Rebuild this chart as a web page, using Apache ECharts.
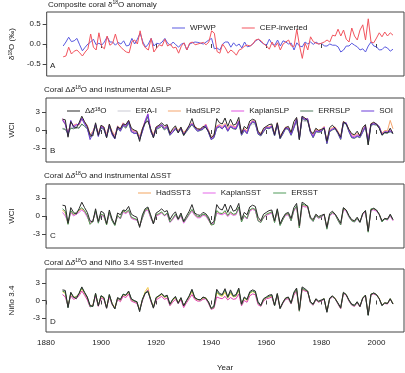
<!DOCTYPE html>
<html><head><meta charset="utf-8">
<script src="https://cdn.jsdelivr.net/npm/echarts@6/dist/echarts.min.js"></script>
<style>html,body{margin:0;padding:0;background:#fff}#c{width:405px;height:373px}</style>
</head><body><div id="c"></div>
<script>
const startYear = 1886, endYear = 2006;
const xTicks = [1880, 1900, 1920, 1940, 1960, 1980, 2000];
const ticksA = [-0.5, 0, 0.5];
const ticksWCI = [-3, 0, 3];

// Panel A: composite coral d18O anomaly (permil)
const wpwp = [
-0.05,0.05,0.17,0.06,0.08,0.14,-0.02,-0.17,-0.08,0.0,
0.05,0.12,-0.02,0.02,-0.03,0.05,0.18,0.05,0.05,-0.03,
0.04,0.0,0.08,-0.05,-0.03,0.14,0.0,0.12,0.27,0.05,
-0.08,0.0,0.14,-0.05,0.02,0.0,0.05,0.14,0.02,-0.03,
0.05,-0.02,-0.08,0.0,0.02,-0.15,0.0,0.03,0.05,0.04,
0.02,0.0,0.05,0.1,0.14,-0.12,-0.1,-0.15,0.0,0.05,
0.05,-0.08,0.03,-0.05,0.0,-0.1,0.05,-0.07,-0.05,0.0,
0.08,0.12,0.05,0.0,-0.03,0.12,0.0,-0.03,0.1,-0.05,
0.08,0.05,0.0,0.02,-0.15,0.03,-0.05,-0.07,0.05,0.0,
0.05,-0.01,0.05,0.0,0.02,-0.05,-0.05,0.0,-0.03,-0.03,
-0.07,-0.2,-0.15,-0.05,-0.05,0.02,-0.03,-0.07,-0.15,-0.12,
-0.2,-0.05,0.05,-0.05,-0.07,-0.15,-0.14,-0.07,-0.1,-0.18,
-0.13];
const cep = [
-0.32,-0.3,-0.08,-0.25,-0.18,-0.15,-0.22,-0.3,-0.2,-0.12,
0.25,-0.08,-0.15,0.28,-0.06,-0.12,0.2,-0.03,0.02,0.25,
0.0,-0.08,-0.15,-0.2,-0.22,0.06,0.1,0.0,0.33,0.0,
-0.1,-0.15,0.14,-0.2,-0.1,-0.02,-0.05,0.12,-0.05,0.0,
-0.1,-0.08,-0.23,-0.05,0.03,-0.15,0.02,0.05,-0.02,0.0,
0.02,0.04,-0.02,0.05,0.33,0.27,-0.19,-0.23,0.0,-0.1,
-0.23,-0.15,-0.2,-0.28,-0.15,-0.12,-0.05,-0.03,-0.05,0.0,
0.1,0.12,0.08,0.0,-0.05,-0.13,0.05,-0.08,0.03,-0.15,
0.0,0.05,0.1,-0.05,-0.06,0.37,-0.05,-0.36,0.02,-0.15,
0.18,0.06,0.02,0.0,0.02,0.05,0.1,0.05,0.22,0.2,
0.37,0.2,0.35,0.12,0.05,0.4,0.2,0.1,0.35,0.48,
0.1,0.63,0.05,0.03,0.15,0.28,0.18,0.3,0.2,0.28,
0.22];

// Coral Delta d18O (WCI units)
const coral = [
1.8,1.7,-1.2,1.4,0.6,0.3,1.2,2.3,1.4,0.6,
-0.8,-1.0,1.2,-0.9,0.8,0.5,-1.3,1.0,-0.5,-1.4,
0.5,0.2,1.0,0.9,1.6,0.3,0.0,-0.2,-1.9,0.2,
1.2,1.5,0.2,-1.3,0.5,0.8,1.2,0.7,0.9,-0.6,
0.2,0.7,-0.5,0.5,-0.9,0.0,0.8,1.9,0.5,0.2,
0.1,0.6,0.4,-0.2,-1.3,-0.9,1.9,1.2,1.0,2.0,
0.6,1.8,0.8,1.0,2.1,-0.6,0.6,0.2,1.5,1.8,
1.6,-0.2,-0.8,0.3,0.6,0.9,1.0,-0.8,1.2,-1.3,
-0.3,0.4,0.6,-0.4,1.4,2.1,-1.6,2.3,2.0,1.6,
-0.2,-0.6,0.3,-0.1,0.1,0.3,-1.9,0.4,0.8,0.3,
-0.4,-1.2,1.4,1.0,0.1,-0.6,-0.8,-0.2,-1.0,0.4,
0.9,-2.5,1.0,1.3,1.0,0.3,-0.8,-0.4,-0.5,0.3,
-0.6];

// Panel B: instrumental Delta SLP
const eraI = [
0.3,0.2,-0.3,0.5,0.4,0.5,0.4,0.9,0.7,0.4,
-0.7,-0.3,0.5,-0.5,0.4,0.3,-0.8,0.6,-0.3,-0.9,
0.4,0.1,0.8,0.4,1.0,0.0,-0.2,-0.3,-1.0,0.1,
1.0,1.6,0.1,-0.8,0.3,0.4,0.6,0.2,0.5,-0.5,
-0.1,0.3,-0.1,0.3,-0.5,0.0,0.4,0.8,0.4,0.1,
0.1,0.3,0.6,-0.1,-1.0,-0.7,0.4,0.6,0.3,0.7,
0.1,0.5,0.3,0.3,1.0,-0.5,0.1,-0.3,0.6,1.0,
0.9,-0.4,-0.6,0.0,0.3,0.3,0.5,-0.6,0.8,-0.9,
-0.3,0.3,0.2,-0.5,0.4,1.3,-1.0,1.6,1.4,1.5,
-0.2,-1.0,-0.1,-0.2,-0.1,0.4,-2.0,-0.1,0.2,0.3,
-0.4,-1.4,1.2,1.1,-0.1,-1.1,-1.2,-0.9,-1.1,-0.2,
0.6,-2.2,0.9,1.0,0.9,0.5,-0.7,-0.3,-0.4,-0.1,
-0.5];
const hadSLP2 = [
1.7,0.9,-0.5,1.2,0.8,1.0,0.8,1.8,1.3,0.8,
-0.8,-0.2,0.9,-0.5,0.7,0.5,-0.7,0.9,-0.2,-0.9,
0.7,0.2,1.2,0.7,1.6,0.1,-0.1,-0.2,-1.1,0.2,
1.5,2.4,0.2,-0.8,0.5,0.7,0.9,0.4,0.8,-0.4,
0.0,0.5,0.0,0.4,-0.4,0.1,0.6,1.2,0.7,0.2,
0.2,0.5,1.0,0.0,-1.2,-0.8,0.7,0.9,0.6,1.1,
0.2,0.9,0.6,0.5,1.6,-0.4,0.3,-0.2,1.0,1.6,
1.4,-0.3,-0.5,0.1,0.6,0.5,0.8,-0.5,1.2,-1.0,
-0.3,0.5,0.4,-0.4,0.7,2.0,-1.1,2.2,1.9,1.9,
0.0,-0.8,0.1,0.0,0.1,0.6,-1.8,0.1,0.4,0.5,
-0.2,-1.1,1.4,1.2,0.1,-0.8,-0.9,-0.6,-0.8,0.1,
0.8,-1.7,1.1,1.2,1.0,0.6,-0.5,-0.1,-0.1,1.6,
0.2];
const kaplanSLP = [
1.9,1.1,-0.7,1.3,0.7,0.9,0.9,2.0,1.2,0.6,
-1.1,-0.4,0.8,-0.7,0.6,0.4,-0.9,0.7,-0.4,-1.1,
0.5,0.0,1.1,0.5,1.5,-0.1,-0.3,-0.4,-1.3,0.0,
1.6,2.7,0.0,-1.0,0.4,0.5,0.8,0.3,0.7,-0.6,
-0.2,0.3,-0.2,0.3,-0.6,-0.1,0.5,1.1,0.6,0.0,
0.1,0.3,0.9,-0.2,-1.4,-1.0,0.5,0.8,0.4,0.9,
0.0,0.7,0.5,0.4,1.5,-0.6,0.1,-0.4,0.9,1.5,
1.3,-0.5,-0.7,-0.1,0.5,0.4,0.7,-0.7,1.1,-1.2,
-0.5,0.4,0.3,-0.6,0.6,1.9,-1.3,2.1,1.8,1.8,
-0.2,-1.0,-0.1,-0.2,-0.1,0.5,-2.0,-0.1,0.2,0.4,
-0.4,-1.3,1.3,1.1,-0.1,-1.0,-1.1,-0.8,-1.0,-0.1,
0.7,-1.9,1.0,1.1,0.9,0.5,-0.7,-0.3,-0.3,0.0,
-0.4];
const errSLP = [
0.2,0.1,-0.6,0.3,0.2,0.4,0.3,1.0,0.6,0.2,
-1.2,-0.5,0.6,-0.9,0.3,0.1,-1.2,0.5,-0.6,-1.3,
0.3,-0.2,0.7,0.3,1.2,-0.3,-0.5,-0.6,-1.5,-0.2,
1.2,2.2,-0.2,-1.2,0.1,0.3,0.6,0.0,0.4,-0.9,
-0.4,0.1,-0.4,0.1,-0.9,-0.3,0.3,0.9,0.3,-0.2,
-0.1,0.1,0.6,-0.4,-1.6,-1.3,0.3,0.5,0.2,0.7,
-0.2,0.5,0.2,0.1,1.2,-0.9,-0.1,-0.6,0.7,1.3,
1.1,-0.7,-1.0,-0.3,0.3,0.2,0.5,-1.0,0.9,-1.5,
-0.7,0.2,0.1,-0.9,0.3,1.7,-1.6,2.0,1.6,1.7,
-0.4,-1.3,-0.3,-0.4,-0.3,0.3,-2.3,-0.3,0.0,0.2,
-0.6,-1.6,1.1,1.0,-0.3,-1.3,-1.4,-1.1,-1.3,-0.4,
0.5,-2.4,0.8,0.9,0.8,0.4,-0.9,-0.5,-0.5,-0.3,
-0.6];
const soi = [
1.6,1.0,-1.0,1.6,0.4,0.8,1.0,1.9,1.0,0.3,
-1.6,-0.6,1.0,-1.1,0.5,0.2,-1.2,0.8,-0.8,-1.5,
0.6,-0.2,0.8,0.6,1.4,-0.3,-0.6,-0.5,-1.6,-0.3,
1.4,2.6,-0.2,-1.2,0.2,0.6,0.9,0.2,0.6,-0.8,
-0.4,0.3,-0.3,0.2,-0.8,-0.2,0.6,1.0,0.4,-0.2,
0.0,0.2,0.8,-0.4,-1.6,-1.2,0.4,0.6,0.2,0.8,
-0.2,0.6,0.3,0.2,1.4,-0.8,0.0,-0.6,0.8,1.4,
1.2,-0.6,-0.9,-0.2,0.4,0.3,0.6,-0.9,1.0,-1.4,
-0.6,0.3,0.2,-0.8,0.4,1.8,-1.5,2.2,1.7,1.9,
-0.3,-1.2,-0.2,-0.3,-0.2,0.4,-2.2,-0.2,0.1,0.3,
-0.5,-1.5,1.2,1.2,-0.2,-1.2,-1.3,-1.0,-1.2,-0.3,
0.6,-1.8,0.9,1.0,1.0,0.6,-0.8,-0.3,-0.4,-0.2,
-0.5];

// Panel C: instrumental Delta SST
const hadSST3 = [
1.0,0.5,-1.3,0.8,0.2,0.5,0.9,1.2,0.8,0.0,
-1.3,-0.8,0.8,-1.0,0.3,0.0,-1.4,0.6,-0.7,-1.5,
0.1,-0.4,0.8,0.5,0.9,-0.3,-0.5,-0.6,-1.6,-0.3,
0.9,1.2,-0.2,-1.2,0.1,0.3,0.6,0.1,0.4,-1.0,
-0.5,0.2,-0.6,0.1,-1.1,-0.4,0.3,1.0,0.2,-0.2,
-0.2,0.2,0.1,-0.6,-1.5,-1.3,0.8,0.4,0.3,0.8,
0.0,0.6,0.2,0.3,1.4,-0.9,0.0,-0.4,0.9,1.2,
1.0,-0.7,-1.0,-0.2,0.2,0.4,0.6,-1.0,0.9,-1.5,
-0.6,0.2,0.3,-0.7,0.9,1.6,-1.9,1.8,1.6,1.6,
-0.3,-0.8,0.1,-0.3,-0.1,0.3,-2.0,0.1,0.5,0.3,
-0.6,-1.4,1.2,0.9,-0.1,-0.7,-0.9,-0.4,-1.0,0.3,
0.8,-2.6,1.1,1.1,0.9,0.3,-0.9,-0.4,-0.6,0.1,
-0.7];
const kaplanSST = [
0.6,0.0,-1.0,0.6,0.0,0.3,0.6,1.0,0.6,-0.2,
-1.1,-0.7,0.6,-1.1,0.1,-0.1,-1.3,0.4,-0.8,-1.4,
0.0,-0.5,0.6,0.4,0.8,-0.4,-0.6,-0.7,-1.7,-0.4,
0.8,1.0,-0.3,-1.3,0.0,0.2,0.5,0.0,0.3,-1.1,
-0.6,0.1,-0.7,0.0,-1.2,-0.5,0.2,0.8,0.1,-0.3,
-0.3,0.1,0.0,-0.7,-1.4,-1.2,0.5,0.3,0.2,0.5,
-0.1,0.4,0.1,0.2,1.2,-0.8,-0.1,-0.5,0.8,1.1,
0.9,-0.8,-1.0,-0.3,0.1,0.3,0.5,-1.0,0.8,-1.5,
-0.6,0.1,0.2,-0.8,0.8,1.5,-1.9,1.7,1.5,1.5,
-0.4,-0.9,0.0,-0.4,-0.2,0.2,-2.1,0.0,0.4,0.2,
-0.7,-1.5,1.1,0.8,-0.2,-0.8,-1.0,-0.5,-1.1,0.2,
0.7,-2.6,1.0,1.0,0.8,0.2,-1.0,-0.5,-0.7,0.0,
-0.8];
const ersst = [
1.2,0.8,-1.4,0.9,0.3,0.6,1.0,1.4,0.9,0.1,
-1.4,-0.9,0.9,-1.2,0.3,0.1,-1.5,0.6,-0.8,-1.6,
0.1,-0.4,0.9,0.6,1.0,-0.2,-0.4,-0.6,-1.7,-0.3,
1.0,1.3,-0.1,-1.3,0.2,0.4,0.7,0.1,0.5,-1.0,
-0.4,0.3,-0.6,0.2,-1.0,-0.4,0.4,1.1,0.3,-0.1,
-0.1,0.3,0.2,-0.5,-1.5,-1.4,0.9,0.5,0.4,0.9,
0.1,0.7,0.3,0.4,1.5,-1.0,0.1,-0.4,1.0,1.3,
1.1,-0.8,-1.1,-0.2,0.3,0.5,0.7,-1.1,1.0,-1.6,
-0.6,0.3,0.4,-0.8,1.0,1.7,-2.0,2.0,1.8,1.7,
-0.4,-0.9,0.1,-0.3,-0.1,0.3,-2.2,0.1,0.6,0.3,
-0.7,-1.5,1.3,1.0,-0.1,-0.8,-1.0,-0.4,-1.1,0.4,
0.9,-2.7,1.2,1.2,1.0,0.3,-1.0,-0.5,-0.6,0.2,
-0.6];

// Panel D: Nino 3.4 SST-inverted
const ninoHad = [
1.5,1.2,-1.0,1.2,0.5,0.7,1.1,2.0,1.2,0.4,
-1.0,-0.8,1.1,-0.8,0.7,0.4,-1.1,0.9,-0.5,-1.2,
0.4,0.0,1.0,0.8,1.4,0.1,-0.1,-0.3,-1.5,0.1,
1.5,2.2,0.1,-1.0,0.4,0.7,1.0,0.5,0.7,-0.7,
0.0,0.5,-0.3,0.4,-0.9,-0.1,0.6,1.5,0.4,0.1,
0.1,0.4,0.5,-0.3,-1.4,-1.2,1.3,0.9,0.7,1.4,
0.4,1.2,0.6,0.7,1.7,-0.7,0.4,0.0,1.2,1.5,
1.3,-0.5,-0.9,0.1,0.5,0.6,0.8,-0.8,1.1,-1.3,
-0.4,0.4,0.5,-0.5,1.1,1.8,-1.8,2.0,1.7,1.6,
-0.3,-0.7,0.2,-0.2,0.0,0.3,-1.9,0.3,0.7,0.4,
-0.5,-1.3,1.3,1.0,0.0,-0.7,-0.9,-0.3,-1.0,0.4,
0.9,-2.4,1.1,1.2,1.0,0.4,-0.8,-0.4,-0.5,0.3,
-0.5];
const ninoKaplan = [
1.0,0.6,-0.9,0.8,0.2,0.4,0.8,1.6,0.9,0.1,
-1.1,-0.9,0.8,-1.0,0.4,0.2,-1.3,0.6,-0.7,-1.4,
0.2,-0.2,0.7,0.5,1.1,-0.1,-0.3,-0.5,-1.6,-0.1,
1.2,1.8,-0.1,-1.2,0.1,0.4,0.7,0.2,0.4,-0.9,
-0.3,0.2,-0.5,0.1,-1.2,-0.4,0.3,1.0,0.2,-0.1,
-0.1,0.2,0.3,-0.5,-1.5,-1.3,0.6,0.4,0.3,0.7,
0.1,0.5,0.2,0.3,1.1,-0.9,0.0,-0.3,0.8,1.1,
1.0,-0.7,-1.0,-0.1,0.3,0.4,0.6,-0.9,0.9,-1.4,
-0.5,0.2,0.3,-0.6,0.9,1.6,-1.8,1.9,1.6,1.5,
-0.4,-0.8,0.1,-0.3,-0.1,0.2,-2.0,0.2,0.6,0.3,
-0.6,-1.4,1.2,0.9,-0.1,-0.8,-1.0,-0.4,-1.1,0.3,
0.8,-2.4,1.0,1.1,0.9,0.3,-0.9,-0.5,-0.6,0.2,
-0.6];
const ninoERSST = [
1.6,1.4,-1.2,1.3,0.5,0.6,1.2,2.2,1.3,0.5,
-1.0,-1.0,1.2,-0.9,0.8,0.5,-1.3,1.0,-0.6,-1.4,
0.4,0.1,1.1,0.9,1.5,0.2,-0.1,-0.2,-1.7,0.1,
1.3,1.6,0.2,-1.2,0.5,0.8,1.1,0.6,0.8,-0.7,
0.1,0.6,-0.4,0.4,-0.9,-0.1,0.7,1.8,0.5,0.2,
0.1,0.5,0.4,-0.3,-1.4,-1.1,1.6,1.0,0.9,1.8,
0.5,1.5,0.7,0.8,1.9,-0.7,0.5,0.1,1.3,1.6,
1.4,-0.4,-0.9,0.2,0.5,0.7,0.9,-0.9,1.1,-1.4,
-0.4,0.4,0.5,-0.5,1.2,1.9,-1.8,2.1,1.8,1.6,
-0.3,-0.7,0.2,-0.2,0.0,0.3,-2.0,0.3,0.7,0.3,
-0.5,-1.3,1.3,1.0,0.0,-0.7,-0.9,-0.3,-1.0,0.4,
0.9,-2.5,1.1,1.2,1.0,0.3,-0.9,-0.4,-0.5,0.3,
-0.6];

const years = [];
for (let y = startYear; y <= endYear; y++) years.push(y);
const pair = arr => arr.map((v, i) => [years[i], v]);

const FONT = '"Liberation Sans", Arial, sans-serif';
const TXT = '#222';
const FRAME = '#444';
const supRich = {
  n: {fontSize: 8, fontFamily: FONT, color: TXT},
  i: {fontSize: 8, fontFamily: FONT, color: TXT, fontStyle: 'italic'},
  s: {fontSize: 5, fontFamily: FONT, color: TXT, verticalAlign: 'top'}
};

const gridTops = [12, 98, 184, 269];
const grids = gridTops.map(t => ({left: 44, right: 1, top: t, height: 64, show: true,
  borderColor: FRAME, borderWidth: 1, backgroundColor: 'transparent'}));

const xAxes = gridTops.map((t, k) => ({
  type: 'value', gridIndex: k, min: 1880, max: 2010,
  axisLine: {show: false}, splitLine: {show: false},
  axisTick: {show: true, length: 4, lineStyle: {color: FRAME}, customValues: xTicks},
  axisLabel: {show: k === 3, customValues: xTicks, fontSize: 8, fontFamily: FONT, color: TXT, margin: 7,
    formatter: v => String(v)},
  name: k === 3 ? 'Year' : '', nameLocation: 'middle', nameGap: 32,
  nameTextStyle: {fontSize: 8, fontFamily: FONT, color: TXT}
}));

function yAxis(k, min, max, ticks, name, fmt) {
  return {
    type: 'value', gridIndex: k, min: min, max: max,
    axisLine: {show: false}, splitLine: {show: false},
    axisTick: {show: true, length: 4, lineStyle: {color: FRAME}, customValues: ticks},
    axisLabel: {customValues: ticks, fontSize: 8, fontFamily: FONT, color: TXT, margin: 6, formatter: fmt},
    name: name, nameLocation: 'middle', nameRotate: 90, nameGap: 30,
    nameTextStyle: {fontSize: 8, fontFamily: FONT, color: TXT, rich: supRich}
  };
}
const yAxes = [
  yAxis(0, -0.8, 0.8, ticksA, '{n|δ}{s|18}{n|O (‰)}', v => v.toFixed(1)),
  yAxis(1, -5.33, 5.33, ticksWCI, 'WCI', v => String(v)),
  yAxis(2, -5.33, 5.33, ticksWCI, 'WCI', v => String(v)),
  yAxis(3, -5.33, 5.33, ticksWCI, 'Niño 3.4', v => String(v))
];

function line(name, data, k, color, z) {
  return {type: 'line', name: name, data: pair(data), xAxisIndex: k, yAxisIndex: k,
    showSymbol: false, symbol: 'none', animation: false, z: z || 2,
    lineStyle: {width: 1, color: color}, itemStyle: {color: color}};
}
const C = {
  wpwp: '#5a5ae0', cep: '#f2545e', coral: '#2b2b2b', era: '#c9c9d3', hadslp: '#f5a46c',
  kapslp: '#e052e0', errslp: '#4f7a5f', soi: '#6a3cd8', hadsst: '#f2a45e', kapsst: '#e466e8',
  ersst: '#4e9a58', nHad: '#f0c840', nKap: '#e040b0', nErs: '#3a8f5a'
};
const CORAL = 'Δδ18O';
const series = [
  line('WPWP', wpwp, 0, C.wpwp),
  line('CEP-inverted', cep, 0, C.cep),
  line('ERA-I', eraI, 1, C.era),
  line('HadSLP2', hadSLP2, 1, C.hadslp),
  line('KaplanSLP', kaplanSLP, 1, C.kapslp),
  line('ERRSLP', errSLP, 1, C.errslp),
  line('SOI', soi, 1, C.soi),
  line(CORAL, coral, 1, C.coral, 5),
  line('HadSST3', hadSST3, 2, C.hadsst),
  line('KaplanSST', kaplanSST, 2, C.kapsst),
  line('ERSST', ersst, 2, C.ersst),
  line(CORAL, coral, 2, C.coral, 5),
  line('HadSST3 Niño 3.4', ninoHad, 3, C.nHad),
  line('Kaplan Niño 3.4', ninoKaplan, 3, C.nKap),
  line('ERSST Niño 3.4', ninoERSST, 3, C.nErs),
  line(CORAL, coral, 3, C.coral, 5)
];

function legend(names, left, top, gap) {
  return {data: names, left: left, top: top, itemWidth: 13, itemHeight: 1, icon: 'rect',
    itemGap: gap, selectedMode: false,
    textStyle: {fontSize: 8, fontFamily: FONT, color: TXT, rich: supRich},
    formatter: n => n === CORAL ? '{n|Δ}{i|δ}{s|18}{n|O}' : n};
}

function title(text, top, left) {
  return {text: text, left: left, top: top, padding: 0,
    textStyle: {fontSize: 8, fontFamily: FONT, color: TXT, fontWeight: 'normal', lineHeight: 10, rich: supRich}};
}
const letterTops = [62, 147, 232, 318];
const titles = [
  title('{n|Composite coral δ}{s|18}{n|O anomaly}', 0, 48),
  title('{n|Coral Δ}{i|δ}{s|18}{n|O and instrumental ΔSLP}', 85, 44),
  title('{n|Coral Δ}{i|δ}{s|18}{n|O and instrumental ΔSST}', 171, 44),
  title('{n|Coral Δ}{i|δ}{s|18}{n|O and Niño 3.4 SST-inverted}', 258, 44)
].concat(['A', 'B', 'C', 'D'].map((l, k) => ({text: l, left: 50, top: letterTops[k], padding: 0,
  textStyle: {fontSize: 8, fontFamily: FONT, color: TXT, fontWeight: 'normal'}})));

const chart = echarts.init(document.getElementById('c'), null, {renderer: 'canvas'});
chart.setOption({
  animation: false,
  backgroundColor: '#fff',
  title: titles,
  grid: grids, xAxis: xAxes, yAxis: yAxes,
  legend: [
    legend(['WPWP', 'CEP-inverted'], 167, 19, 26),
    legend([CORAL, 'ERA-I', 'HadSLP2', 'KaplanSLP', 'ERRSLP', 'SOI'], 62, 102, 11),
    legend(['HadSST3', 'KaplanSST', 'ERSST'], 133, 184, 12)
  ],
  series: series
});
</script></body></html>
